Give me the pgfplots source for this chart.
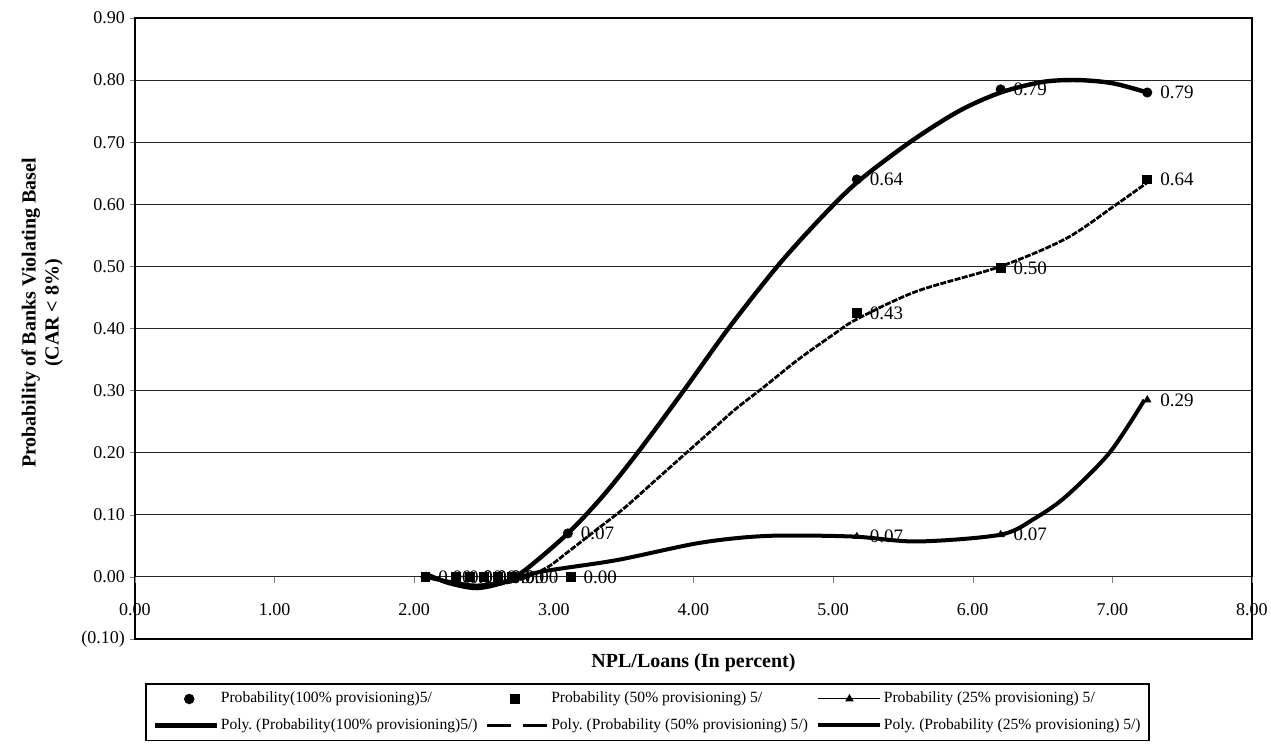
\documentclass[border=0pt]{standalone}
\usepackage{pgfplots}
\pgfplotsset{compat=1.18}
\usepackage{fontspec}
\setmainfont{Liberation Serif}
\pgfplotsset{
 legmark/.style={legend image code/.code={\path (0pt,0pt) (31pt,0pt); \draw[##1] plot coordinates {(#1,0pt)};}},
 legline/.style={legend image code/.code={\draw[##1] (0pt,0pt) -- (#1,0pt);}},
 legtri/.style={legend image code/.code={\draw[##1,mark=none] (0pt,0pt) -- (31pt,0pt); \draw[##1] plot coordinates {(15.5pt,0pt)};}},
}
\begin{document}
\begin{tikzpicture}
\useasboundingbox (-67.5pt,-54pt) rectangle (568pt,319.5pt);
\begin{axis}[
 name=main, at={(0,0)}, anchor=south west, scale only axis,
 width=558.5pt, height=310.5pt,
 xmin=0, xmax=8, ymin=-0.1, ymax=0.9,
 axis line style={line width=1pt},
 xtick=\empty,
 ytick={-0.1,0,0.1,0.2,0.3,0.4,0.5,0.6,0.7,0.8,0.9},
 yticklabels={(0.10),0.00,0.10,0.20,0.30,0.40,0.50,0.60,0.70,0.80,0.90},
 ytick pos=left, tick align=outside, major tick length=2.5pt,
 yticklabel style={font=\fontsize{9}{10}\selectfont, xshift=1pt},
 ymajorgrids, grid style={black!85, line width=0.5pt},
 xlabel={NPL/Loans (In percent)},
 xlabel style={at={(axis description cs:0.5,0)}, anchor=north, yshift=-4pt, font=\bfseries\fontsize{10}{12}\selectfont},
 ylabel={Probability of Banks Violating Basel\\(CAR < 8\%)},
 ylabel style={at={(axis description cs:-0.083,0.525)}, anchor=center, align=center, font=\bfseries\fontsize{10}{11.5}\selectfont},
 legend columns=3,
 legend style={at={(axis description cs:0.009,-0.071)}, anchor=north west, draw=black, line width=0.8pt,
   font=\fontsize{7.8}{9.5}\selectfont, inner sep=3.5pt, nodes={inner sep=0.6pt}, row sep=5pt,
   /tikz/every odd column/.append style={column sep=0pt},
   /tikz/every even column/.append style={column sep=3.5pt}},
 legend cell align=left,
 clip=false,
]
% legend entries
\addlegendimage{black, mark=*, mark size=2.2pt, legmark=17pt}
\addlegendentry{Probability(100\% provisioning)5/}
\addlegendimage{black, mark=square*, mark size=2pt, legmark=14pt}
\addlegendentry{Probability (50\% provisioning) 5/}
\addlegendimage{black, line width=0.5pt, mark=triangle*, mark size=2pt, legtri}
\addlegendentry{Probability (25\% provisioning) 5/}
\addlegendimage{black, line width=2.4pt, legline=31pt}
\addlegendentry{Poly.\ (Probability(100\% provisioning)5/)}
\addlegendimage{black, line width=1.4pt, dash pattern=on 12pt off 6pt, legline=30pt}
\addlegendentry{Poly.\ (Probability (50\% provisioning) 5/)}
\addlegendimage{black, line width=2.2pt, legline=31pt}
\addlegendentry{Poly.\ (Probability (25\% provisioning) 5/)}

% trend lines
\addplot[forget plot, black, line width=2.2pt, smooth, tension=0.5] coordinates {
(2.08,0.005) (2.25,-0.01) (2.45,-0.018) (2.65,-0.008) (2.8,0.012) (3.1,0.07) (3.35,0.13) (3.6,0.2) (3.93,0.3) (4.25,0.4) (4.6,0.5) (4.9,0.575) (5.17,0.635) (5.55,0.70) (5.9,0.75) (6.2,0.78) (6.5,0.797) (6.75,0.80) (7.0,0.795) (7.25,0.78)};
\addplot[forget plot, black, line width=1.4pt, dash pattern=on 3pt off 0.7pt, smooth, tension=0.5] coordinates {
(2.08,0.0) (2.3,-0.01) (2.5,-0.015) (2.75,-0.005) (2.95,0.015) (3.1,0.04) (3.3,0.075) (3.5,0.11) (3.7,0.15) (3.9,0.19) (4.1,0.23) (4.3,0.27) (4.5,0.305) (4.75,0.35) (5.0,0.39) (5.17,0.415) (5.6,0.46) (6.2,0.5) (6.67,0.545) (7.03,0.6) (7.25,0.635)};
\addplot[forget plot, black, line width=2pt, smooth, tension=0.5] coordinates {
(2.08,0.0) (2.3,-0.01) (2.45,-0.014) (2.65,-0.008) (2.9,0.008) (3.45,0.027) (4.05,0.055) (4.53,0.066) (5.14,0.065) (5.6,0.057) (6.2,0.068) (6.45,0.095) (6.67,0.13) (6.98,0.2) (7.23,0.285)};

% data points
\addplot[forget plot, only marks, black, mark=triangle*, mark size=2pt,
 nodes near coords, point meta=explicit symbolic,
 every node near coord/.append style={anchor=west, xshift=3pt, font=\fontsize{9.5}{10}\selectfont}]
 table[meta=lab] {
x y lab
5.17 0.065 0.07
6.20 0.068 0.07
7.25 0.285 0.29
};
\addplot[forget plot, only marks, black, mark=triangle*, mark size=2pt] coordinates {
(2.08,0) (2.30,0) (2.40,0) (2.50,0) (2.60,0) (2.70,0) (3.12,0)};
\addplot[forget plot, only marks, black, mark=square*, mark size=2.2pt,
 nodes near coords, point meta=explicit symbolic,
 every node near coord/.append style={anchor=west, xshift=3pt, font=\fontsize{9.5}{10}\selectfont}]
 table[meta=lab] {
x y lab
3.12 0.00 0.00
5.17 0.425 0.43
6.20 0.497 0.50
7.25 0.64 0.64
};
\addplot[forget plot, only marks, black, mark=square*, mark size=2.2pt] coordinates {
(2.08,0) (2.30,0) (2.40,0) (2.50,0) (2.60,0) (2.70,0)};
\addplot[forget plot, only marks, black, mark=*, mark size=2.3pt,
 nodes near coords, point meta=explicit symbolic,
 every node near coord/.append style={anchor=west, xshift=3pt, font=\fontsize{9.5}{10}\selectfont}]
 table[meta=lab] {
x y lab
2.08 0.00 0.00
2.30 0.00 0.00
2.40 0.00 0.00
2.50 0.00 0.00
2.60 0.00 0.00
2.70 0.00 0.00
3.10 0.07 0.07
5.17 0.64 0.64
6.20 0.785 0.79
7.25 0.78 0.79
};
\end{axis}
% second axis: x axis crossing at y = 0
\begin{axis}[
 at={(0,0)}, anchor=south west, scale only axis,
 width=558.5pt, height=310.5pt,
 xmin=0, xmax=8, ymin=-0.1, ymax=0.9,
 axis x line=middle, axis y line=none,
 x axis line style={draw=none},
 xtick={0,1,2,3,4,5,6,7,8},
 xticklabels={0.00,1.00,2.00,3.00,4.00,5.00,6.00,7.00,8.00},
 xtick align=outside, major tick length=3pt,
 xticklabel style={font=\fontsize{9}{10}\selectfont, yshift=-7pt},
]
\end{axis}
\end{tikzpicture}
\end{document}
